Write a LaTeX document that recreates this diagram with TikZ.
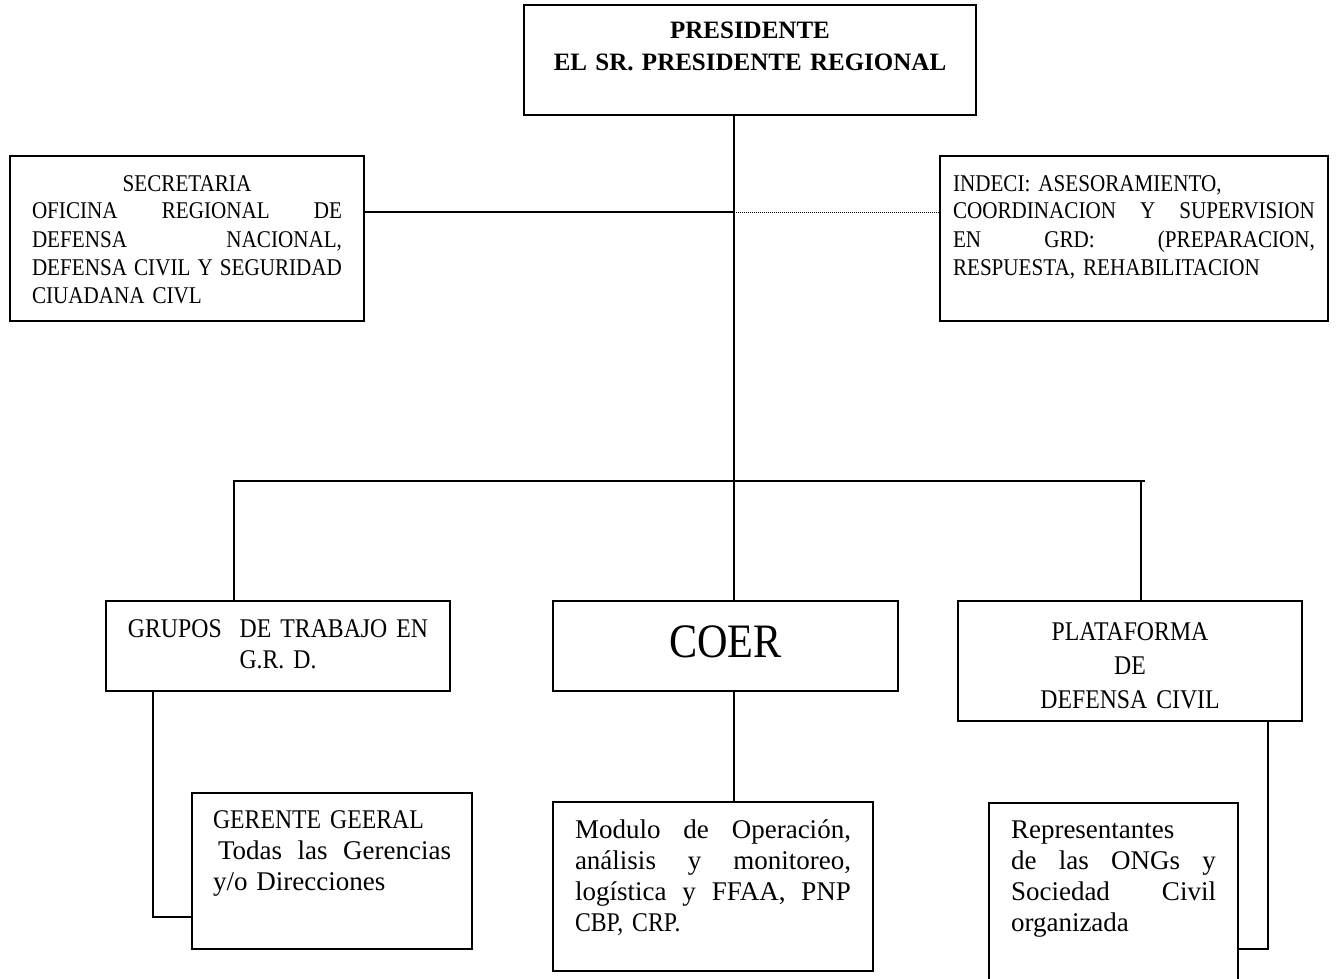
\documentclass[tikz,border=0pt]{standalone}
\usepackage{fontspec}
\setmainfont{Liberation Serif}
\newfontfamily\narrowserif[FakeStretch=0.88]{Liberation Serif}
\newcommand{\jline}[1]{\leavevmode\hbox to \hsize{#1}}
\newcommand{\topfont}{\narrowserif\fontsize{24}{28}\selectfont}
\newcommand{\lowcaps}{\narrowserif\fontsize{27}{31}\selectfont}
\newcommand{\lowtext}{\fontsize{27}{31}\selectfont}

\begin{document}
\begin{tikzpicture}[x=1pt, y=-1pt, line width=1.6pt,
  orgbox/.style={draw, anchor=north west, outer sep=0pt, inner ysep=0pt, inner xsep=#1},
  orgbox/.default=10pt]

\useasboundingbox (0,0) rectangle (1336,979);

\node[orgbox, text width=432pt, align=center, text height=34pt, text depth=76pt,
      font=\bfseries\fontsize{25}{32}\selectfont] (pres) at (524,5)
      {PRESIDENTE\\EL SR. PRESIDENTE REGIONAL};
\node[orgbox=22pt, text width=310pt, align=left, text height=35pt, text depth=130pt, font=\topfont] (secr) at (10,156)
      {\jline{\hfil SECRETARIA\hfil}\\
       \jline{OFICINA\hfill REGIONAL\hfill DE}\\
       \jline{DEFENSA\hfill NACIONAL,}\\
       \jline{DEFENSA\hfill CIVIL\hfill Y\hfill SEGURIDAD}\\
       CIUADANA CIVL};
\node[orgbox=13pt, text width=362pt, align=left, text height=35pt, text depth=130pt, font=\topfont] (indeci) at (940,156)
      {INDECI: ASESORAMIENTO,\\
       \jline{COORDINACION\hfill Y\hfill SUPERVISION}\\
       \jline{EN\hfill GRD:\hfill (PREPARACION,}\\
       RESPUESTA, REHABILITACION};

\node[orgbox, text width=324pt, align=center, text height=36pt, text depth=54pt, font=\lowcaps] (grupos) at (106,601)
      {GRUPOS\ \ DE TRABAJO EN\\G.R. D.};
\node[orgbox, text width=325pt, align=center, text height=56pt, text depth=34pt,
      font=\narrowserif\fontsize{48}{56}\selectfont] (coer) at (553,601) {COER};
\node[orgbox, text width=324pt, align=center, text height=39pt, text depth=81pt,
      font=\narrowserif\fontsize{27}{34}\selectfont] (plat) at (958,601)
      {PLATAFORMA\\DE\\DEFENSA CIVIL};

\node[orgbox=21pt, text width=238pt, align=left, text height=35pt, text depth=121pt, font=\lowtext] (gerente) at (192,793)
      {{\narrowserif GERENTE GEERAL}\\
       \jline{\hspace*{5pt}Todas\hfill las\hfill Gerencias}\\
       y/o Direcciones};
\node[orgbox=22pt, text width=276pt, align=left, text height=36pt, text depth=133pt, font=\lowtext] (modulo) at (553,802)
      {\jline{Modulo\hfill de\hfill Operación,}\\
       \jline{análisis\hfill y\hfill monitoreo,}\\
       \jline{logística\hfill y\hfill FFAA,\hfill PNP}\\
       {\narrowserif CBP, CRP.}};
\node[orgbox=22pt, text width=205pt, align=left, text height=35pt, text depth=187pt, font=\lowtext] (repr) at (989,803)
      {Representantes\\
       \jline{de\hfill las\hfill ONGs\hfill y}\\
       \jline{Sociedad\hfill Civil}\\
       organizada};

\coordinate (hub) at (734,481);
\coordinate (mid) at (734,212);
\coordinate (busL) at (234,481);
\coordinate (busR) at (1141,481);
\coordinate (busE) at (1145,481);
\coordinate (gElbow) at (153,917);
\coordinate (pElbow) at (1268,949);

\draw (pres.south -| hub) -- (hub) -- (coer.north -| hub);
\draw (secr.east |- mid) -- (mid);
\draw[densely dotted, line width=1pt] (mid) -- (indeci.west |- mid);
\draw (grupos.north -| busL) -- (busL) -- (busE);
\draw (busR) -- (plat.north -| busR);
\draw (grupos.south -| gElbow) -- (gElbow) -- (gerente.west |- gElbow);
\draw (coer.south -| hub) -- (modulo.north -| hub);
\draw (plat.south -| pElbow) -- (pElbow) -- (repr.east |- pElbow);

\end{tikzpicture}
\end{document}
